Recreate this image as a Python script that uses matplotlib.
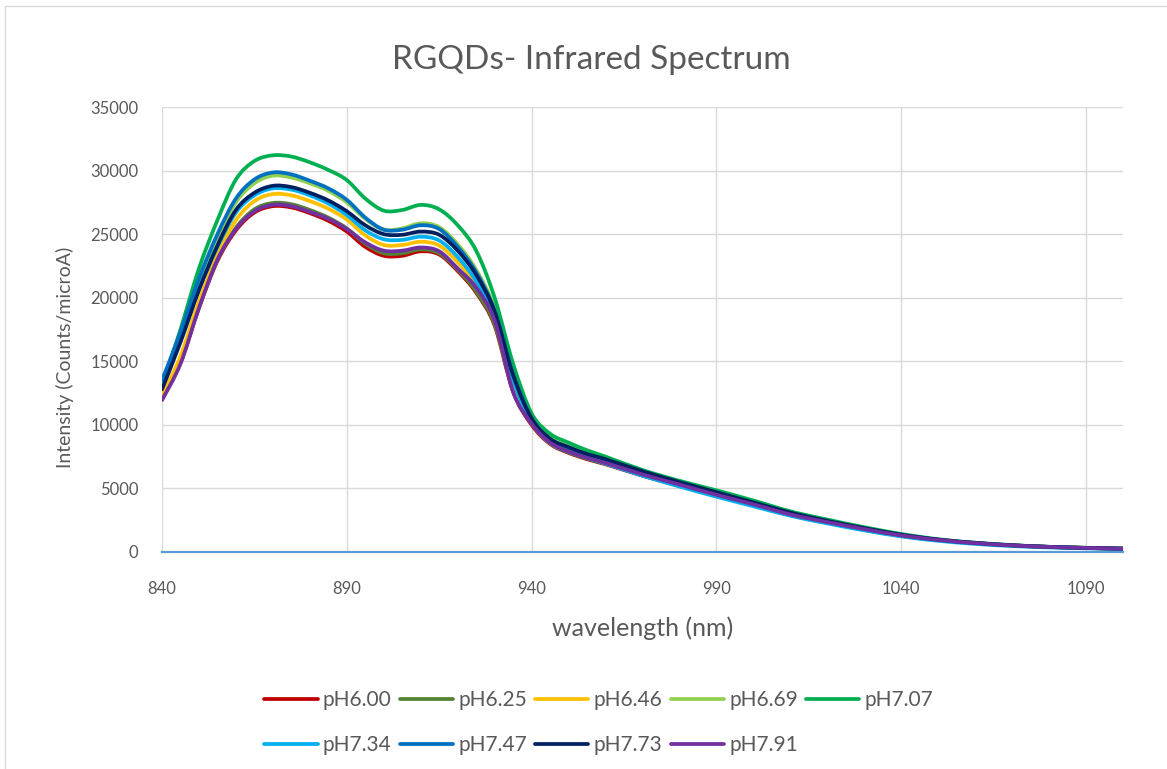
import matplotlib
matplotlib.use("Agg")
import matplotlib.pyplot as plt
from matplotlib.patches import Rectangle, PathPatch
from matplotlib.path import Path
from matplotlib.lines import Line2D

plt.rcParams['font.family'] = ['Lato', 'DejaVu Sans']

wavelength = [840, 845, 850, 855, 860, 865, 870, 875, 880, 885, 890, 895, 900,
              905, 910, 915, 920, 925, 930, 935, 940, 945, 950, 955, 960,
              970, 980, 990, 1000, 1010, 1020, 1030, 1040, 1050, 1060, 1070,
              1080, 1090, 1100]

ph600 = [12000, 14900, 19200, 22900, 25300, 26700, 27200, 27100, 26650, 26050, 25200, 24000, 23300,
         23300, 23650, 23400, 22100, 20400, 17800, 12600, 10000, 8500, 7800, 7300, 6900,
         6000, 5200, 4400, 3680, 2900, 2300, 1750, 1270, 930, 680, 505, 390, 310, 250]
ph625 = [12100, 15000, 19300, 23000, 25500, 26950, 27450, 27350, 26900, 26300, 25450, 24250, 23500,
         23500, 23800, 23500, 22200, 20500, 17900, 12700, 10100, 8550, 7850, 7350, 6950,
         6050, 5250, 4450, 3700, 2920, 2320, 1770, 1280, 940, 690, 510, 395, 315, 255]
ph646 = [12300, 15400, 19700, 23400, 26100, 27600, 28150, 28050, 27600, 27000, 26150, 24900, 24150,
         24150, 24400, 24100, 22800, 21000, 18300, 13000, 10200, 8600, 7950, 7450, 7050,
         6150, 5330, 4530, 3780, 2980, 2370, 1810, 1310, 955, 700, 520, 400, 320, 260]
ph669 = [13200, 16900, 21000, 24600, 27500, 29000, 29600, 29450, 29000, 28400, 27500, 26200, 25350,
         25450, 25850, 25550, 24200, 22200, 19200, 14100, 10600, 9000, 8300, 7750, 7300,
         6300, 5450, 4650, 3900, 3100, 2450, 1880, 1350, 970, 710, 525, 400, 320, 260]
ph707 = [13000, 17500, 22300, 26100, 29300, 30750, 31200, 31100, 30650, 30050, 29250, 27800, 26850,
         26900, 27300, 26950, 25700, 23700, 20000, 14800, 10900, 9300, 8600, 8000, 7500,
         6450, 5600, 4850, 4050, 3200, 2550, 1950, 1420, 1000, 730, 540, 410, 330, 270]
ph734 = [13300, 16800, 20700, 24000, 26700, 28050, 28600, 28500, 28050, 27400, 26500, 25300, 24600,
         24550, 24800, 24500, 23200, 21300, 18500, 13500, 10200, 8600, 7900, 7400, 6950,
         6000, 5150, 4350, 3600, 2850, 2250, 1700, 1230, 880, 640, 470, 360, 290, 240]
ph747 = [13500, 17300, 21500, 25000, 27800, 29300, 29850, 29700, 29200, 28600, 27700, 26300, 25350,
         25350, 25700, 25400, 24000, 22000, 19000, 14000, 10500, 8900, 8200, 7700, 7250,
         6250, 5400, 4600, 3850, 3050, 2400, 1850, 1330, 960, 700, 520, 400, 320, 260]
ph773 = [12800, 16500, 20600, 24100, 26900, 28250, 28800, 28700, 28250, 27650, 26800, 25700, 25000,
         24950, 25200, 24950, 23700, 21800, 18900, 13900, 10500, 8900, 8250, 7700, 7300,
         6350, 5500, 4700, 3900, 3100, 2450, 1880, 1360, 980, 720, 530, 405, 325, 265]
ph791 = [11950, 14800, 19200, 23000, 25400, 26800, 27300, 27200, 26750, 26200, 25400, 24350, 23700,
         23700, 23950, 23650, 22300, 20800, 18200, 12600, 10100, 8600, 7900, 7400, 7000,
         6100, 5300, 4500, 3750, 2950, 2350, 1800, 1300, 950, 700, 520, 400, 320, 260]

series_labels = ['pH6.00', 'pH6.25', 'pH6.46', 'pH6.69', 'pH7.07',
                 'pH7.34', 'pH7.47', 'pH7.73', 'pH7.91']
series_values = [ph600, ph625, ph646, ph669, ph707, ph734, ph747, ph773, ph791]
series_colors = ['#C00000', '#548235', '#FFC000', '#92D050', '#00B050',
                 '#00B0F0', '#0070C0', '#002060', '#7030A0']

x_ticks = [840, 890, 940, 990, 1040, 1090]
y_ticks = [0, 5000, 10000, 15000, 20000, 25000, 30000, 35000]


def smooth_path(xs, ys):
    """Excel-style smoothed line: cubic Bezier segments through the data points."""
    n = len(xs)
    verts = [(xs[0], ys[0])]
    codes = [Path.MOVETO]
    for i in range(n - 1):
        x0, y0 = xs[max(i - 1, 0)], ys[max(i - 1, 0)]
        x1, y1 = xs[i], ys[i]
        x2, y2 = xs[i + 1], ys[i + 1]
        x3, y3 = xs[min(i + 2, n - 1)], ys[min(i + 2, n - 1)]
        c1 = (x1 + (x2 - x0) / 6.0, y1 + (y2 - y0) / 6.0)
        c2 = (x2 - (x3 - x1) / 6.0, y2 - (y3 - y1) / 6.0)
        verts += [c1, c2, (x2, y2)]
        codes += [Path.CURVE4, Path.CURVE4, Path.CURVE4]
    return Path(verts, codes)


W, H = 1167, 769
fig = plt.figure(figsize=(W / 100, H / 100), dpi=100)
fig.patches.append(Rectangle((5 / W, -0.02), 1.05, 1.02 - 6 / H, transform=fig.transFigure,
                             fill=False, edgecolor='#D9D9D9', linewidth=1.0))

ax = fig.add_axes([162 / W, 1 - 552 / H, (1123 - 162) / W, (552 - 107) / H])

handles = []
for lab, vals, col in zip(series_labels, series_values, series_colors):
    patch = PathPatch(smooth_path(wavelength, vals), facecolor='none', edgecolor=col,
                      lw=2.7, joinstyle='round', capstyle='round', zorder=3,
                      transform=ax.transData)
    ax.add_patch(patch)
    handles.append(Line2D([], [], color=col, lw=2.7, solid_capstyle='round'))

ax.set_xlim(840, 1100)
ax.set_ylim(0, 35000)
ax.set_xticks(x_ticks)
ax.set_yticks(y_ticks)
ax.grid(True, color='#D9D9D9', linewidth=1.0, zorder=0)
ax.set_axisbelow(True)
for s in ['top', 'right', 'left']:
    ax.spines[s].set_visible(False)
ax.spines['bottom'].set_color('#5B9BD5')
ax.spines['bottom'].set_linewidth(1.6)
ax.spines['bottom'].set_zorder(2)
ax.tick_params(axis='both', length=0, labelsize=12, labelcolor='#595959')
ax.tick_params(axis='y', pad=17)
ax.tick_params(axis='x', pad=21)

ax.set_xlabel('wavelength (nm)', fontsize=18, color='#595959', labelpad=13.5)
ax.set_ylabel('Intensity (Counts/microA)', fontsize=14, color='#595959', labelpad=12)
ax.yaxis.label.set_y(0.438)
fig.text(591 / W, 1 - 60 / H, 'RGQDs- Infrared Spectrum', fontsize=24, color='#595959',
         ha='center', va='center')

order = [0, 5, 1, 6, 2, 7, 3, 8, 4]
leg = fig.legend([handles[i] for i in order], [series_labels[i] for i in order],
                 ncol=5, loc='upper left', bbox_to_anchor=(254 / W, 1 - 680 / H),
                 frameon=False, fontsize=15, handlelength=2.55, handletextpad=0.25,
                 columnspacing=0.4, labelspacing=1.18, borderpad=0)
for t in leg.get_texts():
    t.set_color('#595959')

fig.savefig('out.png', dpi=100)
